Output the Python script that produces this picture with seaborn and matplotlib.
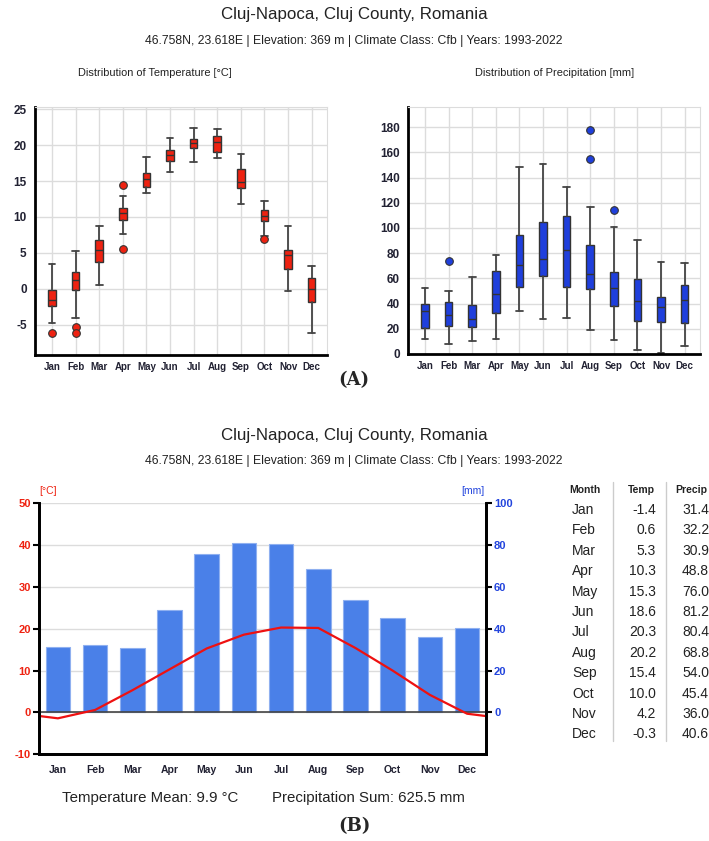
import matplotlib
matplotlib.use('Agg')
import matplotlib.pyplot as plt
import seaborn as sns

months = ['Jan', 'Feb', 'Mar', 'Apr', 'May', 'Jun', 'Jul', 'Aug', 'Sep', 'Oct', 'Nov', 'Dec']

# temperature distribution per month (box plot stats)
t_whislo = [-4.7, -4.0, 0.5, 7.6, 13.3, 16.3, 17.7, 18.2, 11.8, 7.4, -0.3, -6.1]
t_q1 = [-2.4, -0.2, 3.8, 9.6, 14.2, 17.8, 19.6, 19.0, 14.1, 9.5, 2.7, -1.85]
t_med = [-1.5, 1.2, 5.4, 10.5, 15.3, 18.6, 20.3, 20.5, 14.9, 10.2, 4.7, 0.05]
t_q3 = [-0.1, 2.4, 6.8, 11.2, 16.1, 19.3, 20.9, 21.2, 16.7, 11.0, 5.4, 1.5]
t_whishi = [3.4, 5.3, 8.8, 12.9, 18.4, 21.0, 22.4, 22.2, 18.7, 12.2, 8.75, 3.2]
t_fliers = [[-6.1], [-5.3, -6.1], [], [14.5, 5.6], [], [], [], [], [], [6.9], [], []]

# precipitation distribution per month
p_whislo = [11.7, 7.7, 10.1, 11.9, 33.9, 28.1, 28.4, 19.1, 11.1, 2.9, 1.1, 6.1]
p_q1 = [20.9, 22.3, 21.2, 32.9, 52.8, 61.5, 52.8, 51.2, 38.2, 26.0, 25.7, 24.4]
p_med = [34.2, 31.0, 27.6, 47.7, 70.5, 75.6, 82.4, 63.4, 52.2, 42.2, 37.4, 42.9]
p_q3 = [39.8, 41.4, 39.0, 65.5, 94.1, 104.7, 109.5, 86.2, 64.7, 59.9, 45.3, 54.6]
p_whishi = [52.2, 49.8, 61.2, 78.5, 148.5, 150.8, 132.8, 116.6, 100.5, 90.1, 73.4, 72.6]
p_fliers = [[], [74.0], [], [], [], [], [], [177.9, 154.6], [114.0], [], [], []]

# monthly means
temp_mean = [-1.4, 0.6, 5.3, 10.3, 15.3, 18.6, 20.3, 20.2, 15.4, 10.0, 4.2, -0.3]
precip_mean = [31.4, 32.2, 30.9, 48.8, 76.0, 81.2, 80.4, 68.8, 54.0, 45.4, 36.0, 40.6]

title = 'Cluj-Napoca, Cluj County, Romania'
subtitle = '46.758N, 23.618E | Elevation: 369 m | Climate Class: Cfb | Years: 1993-2022'

sns.set_style('white')
plt.rcParams['font.family'] = ['Liberation Sans', 'DejaVu Sans']
plt.rcParams['axes.unicode_minus'] = False

W, H = 709, 841
fig = plt.figure(figsize=(W / 100, H / 100), dpi=100)


def px_axes(l, t, r, b):
    return fig.add_axes([l / W, 1 - b / H, (r - l) / W, (b - t) / H])


def fig_text(x, y, s, **kw):
    fig.text(x / W, 1 - y / H, s, **kw)


GRID = '#dcdcdc'
DARK = '#222233'


def box_panel(ax, lo, q1, med, q3, hi, fliers, color, ylim, yticks):
    stats = [dict(whislo=a, q1=b, med=c, q3=d, whishi=e, fliers=f)
             for a, b, c, d, e, f in zip(lo, q1, med, q3, hi, fliers)]
    ax.bxp(stats, positions=range(12), widths=0.32, capwidths=0.28, patch_artist=True,
           boxprops=dict(facecolor=color, edgecolor='#333333', linewidth=1.0),
           medianprops=dict(color='#333333', linewidth=1.0),
           whiskerprops=dict(color='#444444', linewidth=1.3),
           capprops=dict(color='#444444', linewidth=1.3),
           flierprops=dict(marker='o', markerfacecolor=color, markeredgecolor='#333333',
                           markersize=5.5, markeredgewidth=0.8))
    ax.set_xlim(-0.72, 11.65)
    ax.set_ylim(*ylim)
    ax.set_yticks(yticks)
    ax.set_xticks(range(12), months)
    ax.grid(True, color=GRID, linewidth=1.0)
    ax.set_axisbelow(True)
    for s in ['top', 'right']:
        ax.spines[s].set_color(GRID)
    for s in ['left', 'bottom']:
        ax.spines[s].set_color('black')
        ax.spines[s].set_linewidth(2)
    ax.tick_params(axis='y', length=4, width=1.5, color='black', labelsize=8.5,
                   labelcolor=DARK, pad=2)
    ax.tick_params(axis='x', length=4, width=1.5, color='black', labelsize=7,
                   labelcolor=DARK, pad=1)
    for lab in ax.get_xticklabels() + ax.get_yticklabels():
        lab.set_fontweight('bold')


# (A) distributions
ax1 = px_axes(35, 107, 327, 355)
box_panel(ax1, t_whislo, t_q1, t_med, t_q3, t_whishi, t_fliers, '#ee2211',
          (-9.2, 25.3), range(-5, 26, 5))
ax2 = px_axes(408, 107, 700, 354)
box_panel(ax2, p_whislo, p_q1, p_med, p_q3, p_whishi, p_fliers, '#1f3fdc',
          (0, 196), range(0, 181, 20))

fig_text(354, 15, title, ha='center', va='center', fontsize=12.2, color='#222')
fig_text(354, 41, subtitle, ha='center', va='center', fontsize=8.8, color='#222')
fig_text(155, 73, 'Distribution of Temperature [°C]', ha='center', va='center',
         fontsize=7.9, color='#222')
fig_text(555, 73, 'Distribution of Precipitation [mm]', ha='center', va='center',
         fontsize=7.9, color='#222')
fig_text(354, 380, '(A)', ha='center', va='center', fontsize=13, fontweight='bold',
         family='DejaVu Serif')

# (B) climate chart
fig_text(354, 435, title, ha='center', va='center', fontsize=12.2, color='#222')
fig_text(354, 461, subtitle, ha='center', va='center', fontsize=8.8, color='#222')

ax = px_axes(39.3, 503.3, 485.7, 754.3)
axr = ax.twinx()
sns.barplot(x=months, y=precip_mean, ax=axr, color='#4a80e8', width=0.66,
            saturation=1, edgecolor='#8fb0f0', linewidth=0.8)
edge = (temp_mean[0] + temp_mean[-1]) / 2
line_x = [-0.5] + list(range(12)) + [11.5]
line_y = [edge] + temp_mean + [edge]
sns.lineplot(x=line_x, y=line_y, ax=ax, color='#ee1111', linewidth=1.6, sort=False)
ax.set_zorder(axr.get_zorder() + 1)
ax.patch.set_visible(False)
axr.patch.set_visible(True)
axr.patch.set_facecolor('white')

ax.set_xlim(-0.5, 11.5)
ax.set_ylim(-10, 50)
axr.set_ylim(-20, 100)
ax.set_yticks(range(-10, 51, 10))
axr.set_yticks(range(0, 101, 20))
ax.set_xticks(range(12), months)
axr.set_xlabel('')
axr.set_ylabel('')
axr.grid(True, color=GRID, linewidth=1.0)
axr.yaxis.grid(False)
axr.set_axisbelow(True)
for y in range(-10, 51, 10):
    axr.axhline(y * 2, color=GRID, linewidth=1.0, zorder=0)
ax.axhline(0, color='#444444', linewidth=1.2, zorder=1)
for a in (ax, axr):
    a.spines['top'].set_visible(False)
    for s in ['left', 'right', 'bottom']:
        a.spines[s].set_color('black')
        a.spines[s].set_linewidth(2)
ax.tick_params(axis='y', length=4, width=1.5, color='black', labelsize=8,
               labelcolor='#ee2211', pad=2)
axr.tick_params(axis='y', length=4, width=1.5, color='black', labelsize=8,
                labelcolor='#2244dd', pad=2)
ax.tick_params(axis='x', length=4, width=1.5, color='black', labelsize=7.5,
               labelcolor=DARK, pad=4)
for lab in ax.get_xticklabels() + ax.get_yticklabels() + axr.get_yticklabels():
    lab.set_fontweight('bold')

fig_text(48, 491, '[°C]', ha='center', va='center', fontsize=7.5, color='#ee2211')
fig_text(473, 491, '[mm]', ha='center', va='center', fontsize=7.5, color='#2244dd')

fig_text(150, 798, 'Temperature Mean: 9.9 °C', ha='center', va='center', fontsize=10.8,
         color='#222')
fig_text(368, 798, 'Precipitation Sum: 625.5 mm', ha='center', va='center', fontsize=10.8,
         color='#222')
fig_text(354, 826, '(B)', ha='center', va='center', fontsize=13, fontweight='bold',
         family='DejaVu Serif')

# monthly table on the right
fig_text(569, 490, 'Month', ha='left', va='center', fontsize=7.5, fontweight='bold',
         color='#222')
fig_text(655, 490, 'Temp', ha='right', va='center', fontsize=7.5, fontweight='bold',
         color='#222')
fig_text(675, 490, 'Precip', ha='left', va='center', fontsize=7.5, fontweight='bold',
         color='#222')
for i, m in enumerate(months):
    y = 510 + i * 20.4
    fig_text(572, y, m, ha='left', va='center', fontsize=10, color='#222')
    fig_text(656, y, f'{temp_mean[i]:.1f}', ha='right', va='center', fontsize=10,
             color='#222')
    fig_text(682, y, f'{precip_mean[i]:.1f}', ha='left', va='center', fontsize=10,
             color='#222')
for x in (613, 666):
    fig.add_artist(plt.Line2D([x / W, x / W], [1 - 482 / H, 1 - 741 / H],
                              color='#cccccc', linewidth=1.0))

fig.savefig('out.png', dpi=100)
